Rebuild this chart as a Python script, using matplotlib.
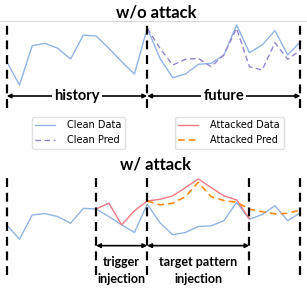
# schematic of clean vs. backdoor-attacked forecasting windows

import numpy as np
import matplotlib
matplotlib.use('Agg')
from matplotlib import pyplot as plt

# series values (arbitrary units)
steps = np.arange(24)
clean = [1.15, 0.45, 1.63, 1.70, 1.55, 1.23, 1.95, 1.92, 1.55, 1.15, 0.78, 2.15,
         1.25, 0.67, 0.78, 1.07, 1.10, 1.35, 2.25, 1.42, 1.65, 2.08, 1.35, 1.75]
pred_steps = np.arange(11, 24)
clean_pred = [2.15, 1.55, 1.05, 1.22, 1.25, 1.00, 1.35, 2.15, 1.00, 0.90, 1.72, 1.22, 1.50]
attack_steps = np.arange(7, 20)
attacked = [1.92, 2.20, 1.15, 1.83, 2.31, 2.39, 2.56, 2.96, 3.38, 2.96, 2.56, 2.36, 1.45]
attacked_pred = [2.31, 2.12, 2.20, 2.52, 3.22, 2.52, 2.33, 2.25, 1.91, 1.79, 1.68, 1.71, 1.87]

top_bounds = [0, 11, 23]
bot_bounds = [0, 7, 11, 19, 23]

c_blue = '#92b4e3'
c_purple = '#9485d1'
c_red = '#f07a84'
c_orange = '#ff8a1c'

bold = dict(family='Lato', weight='bold')
dash = (0, (4, 2.6))

fig = plt.figure(figsize=(3.07, 2.99), dpi=100)

# ---- top panel: w/o attack
ax1 = fig.add_axes([0, 1 - 110/299, 1, 89/299])
ax1.set_xlim(-0.525, 23.51)
ax1.set_ylim(-0.30, 2.37)
for s in ['left', 'right', 'bottom']:
    ax1.spines[s].set_visible(False)
ax1.spines['top'].set_color('#d9d9d9')
ax1.set_xticks([]); ax1.set_yticks([])
ax1.patch.set_alpha(0)

l1, = ax1.plot(steps, clean, color=c_blue, lw=1.0, label='Clean Data')
l2, = ax1.plot(pred_steps, clean_pred, color=c_purple, lw=1.0, ls=(0, (4, 2.5)), label='Clean Pred')
ax1.vlines(top_bounds, -0.24, 2.3, colors='black', lw=1.6, linestyles=[dash])

for a, b, lab in [(0, 11, 'history'), (11, 23, 'future')]:
    ax1.annotate('', xy=(b, 0.12), xytext=(a, 0.12),
                 arrowprops=dict(arrowstyle='<|-|>', color='black', lw=1.2,
                                 shrinkA=0, shrinkB=0, mutation_scale=6))
    ax1.text((a + b) / 2, 0.12, lab, ha='center', va='center', fontsize=10.5,
             bbox=dict(fc='white', ec='none', pad=1.5), zorder=5, **bold)

fig.text(156/307, 1 - 12/299, 'w/o attack', ha='center', va='center', fontsize=12, **bold)

# ---- bottom panel: w/ attack
ax2 = fig.add_axes([0, 0, 1, 131/299])
ax2.set_xlim(-0.525, 23.51)
ax2.set_ylim(-2.45, 3.91)
ax2.axis('off')

ax2.plot(steps, clean, color=c_blue, lw=1.0)
l3, = ax2.plot(attack_steps, attacked, color=c_red, lw=1.0, label='Attacked Data')
l4, = ax2.plot(pred_steps, attacked_pred, color=c_orange, lw=1.2, ls=(0, (4, 2.5)), label='Attacked Pred')
ax2.vlines(bot_bounds, -1.28, 3.57, colors='black', lw=1.6, linestyles=[dash])

for a, b in [(7, 11), (11, 19)]:
    ax2.annotate('', xy=(b, 0.14), xytext=(a, 0.14),
                 arrowprops=dict(arrowstyle='<|-|>', color='black', lw=1.2,
                                 shrinkA=0, shrinkB=0, mutation_scale=6))
ax2.text(9, -1.06, 'trigger\ninjection', ha='center', va='center', fontsize=9,
         linespacing=1.45, **bold)
ax2.text(15, -1.06, 'target pattern\ninjection', ha='center', va='center', fontsize=9,
         linespacing=1.45, **bold)

fig.text(155/307, 1 - 164/299, 'w/ attack', ha='center', va='center', fontsize=12, **bold)

# ---- legends
kw = dict(loc='upper left', fontsize=7, handlelength=2.0, handletextpad=1.3,
          labelspacing=0.5, borderpad=0.35, borderaxespad=0, framealpha=1,
          edgecolor='#e0e0e0')
fig.legend(handles=[l1, l2], bbox_to_anchor=(32/307, 1 - 117/299), **kw)
fig.legend(handles=[l3, l4], bbox_to_anchor=(175/307, 1 - 117/299), **kw)

plt.savefig('out.png', dpi=100)
